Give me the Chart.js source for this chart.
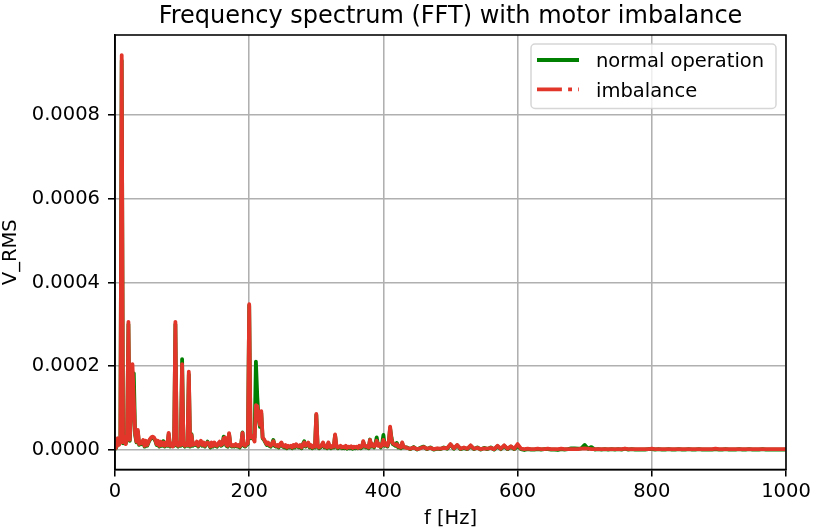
<!DOCTYPE html>
<html lang="en">
<head>
<meta charset="UTF-8">
<title>Frequency spectrum (FFT) with motor imbalance</title>
<script src="https://cdn.jsdelivr.net/npm/chart.js"></script>
<style>
    html, body { margin: 0; padding: 0; background: #fff; }
    #wrap { width: 815px; height: 532px; }
</style>
</head>
<body>
<div id="wrap"><canvas id="fftChart" width="815" height="532"></canvas></div>
<script>
// frequency bins [Hz]
const freqHz = [
    0, 2, 4, 6, 8, 10, 12, 14, 16, 18,
    20, 22, 24, 26, 28, 30, 32, 34, 36, 38,
    40, 42, 44, 46, 48, 50, 52, 54, 56, 58,
    60, 62, 64, 66, 68, 70, 72, 74, 76, 78,
    80, 82, 84, 86, 88, 90, 92, 94, 96, 98,
    100, 102, 104, 106, 108, 110, 112, 114, 116, 118,
    120, 122, 124, 126, 128, 130, 132, 134, 136, 138,
    140, 142, 144, 146, 148, 150, 152, 154, 156, 158,
    160, 162, 164, 166, 168, 170, 172, 174, 176, 178,
    180, 182, 184, 186, 188, 190, 192, 194, 196, 198,
    200, 202, 204, 206, 208, 210, 212, 214, 216, 218,
    220, 222, 224, 226, 228, 230, 232, 234, 236, 238,
    240, 242, 244, 246, 248, 250, 252, 254, 256, 258,
    260, 262, 264, 266, 268, 270, 272, 274, 276, 278,
    280, 282, 284, 286, 288, 290, 292, 294, 296, 298,
    300, 302, 304, 306, 308, 310, 312, 314, 316, 318,
    320, 322, 324, 326, 328, 330, 332, 334, 336, 338,
    340, 342, 344, 346, 348, 350, 352, 354, 356, 358,
    360, 362, 364, 366, 368, 370, 372, 374, 376, 378,
    380, 382, 384, 386, 388, 390, 392, 394, 396, 398,
    400, 402, 404, 406, 408, 410, 412, 414, 416, 418,
    420, 422, 424, 426, 428, 430,
    435, 440, 445, 450, 455, 460, 465, 470, 475, 480,
    485, 490, 495, 500, 505, 510, 515, 520, 525, 530,
    535, 540, 545, 550, 555, 560, 565, 570, 575, 580,
    585, 590, 595, 600, 605, 610, 615, 620, 625, 630,
    635, 640, 645, 650, 655, 660, 665, 670, 675, 680,
    685, 690, 695, 700, 705, 710, 715, 720, 725, 730,
    735, 740, 745, 750, 755, 760, 765, 770, 775, 780,
    785, 790, 795, 800, 805, 810, 815, 820, 825, 830,
    835, 840, 845, 850, 855, 860, 865, 870, 875, 880,
    885, 890, 895, 900, 905, 910, 915, 920, 925, 930,
    935, 940, 945, 950, 955, 960, 965, 970, 975, 980,
    985, 990, 995, 1000
];

// amplitudes in microvolts (x 1e-6 V)
const normalUV = [
    1, 6, 24, 14, 20, 930, 16, 28, 16, 32,
    300, 22, 80, 150, 183, 36, 18, 44, 12, 18,
    14, 22, 8, 20, 10, 18, 24, 28, 30, 28,
    22, 12, 20, 8, 18, 10, 21, 8, 16, 10,
    38, 8, 14, 10, 10, 300, 12, 8, 16, 10,
    217, 12, 8, 14, 10, 180, 8, 38, 10, 14,
    12, 18, 8, 16, 20, 10, 16, 8, 14, 20,
    12, 6, 16, 8, 16, 10, 8, 14, 18, 10,
    12, 32, 28, 10, 8, 38, 12, 8, 10, 8,
    12, 8, 10, 6, 12, 42, 10, 8, 12, 14,
    345, 28, 32, 26, 30, 211, 129, 75, 55, 88,
    28, 24, 18, 12, 16, 10, 8, 14, 24, 10,
    8, 10, 6, 12, 16, 8, 6, 10, 4, 8,
    6, 8, 4, 10, 6, 12, 8, 6, 10, 4,
    14, 21, 8, 12, 16, 6, 10, 4, 8, 6,
    84, 8, 4, 6, 10, 16, 6, 8, 4, 16,
    6, 4, 8, 6, 35, 8, 4, 6, 8, 4,
    6, 4, 8, 3, 6, 4, 7, 3, 6, 4,
    6, 4, 8, 4, 6, 19, 8, 6, 8, 4,
    25, 8, 12, 6, 14, 30, 12, 12, 6, 14,
    36, 10, 14, 8, 18, 52, 30, 14, 12, 10,
    17, 6, 8, 4, 16, 6,
    6, 2, 7, 1, 5, 8, 2, 6, 1, 3,
    2, 6, 3, 13, 3, 11, 2, 5, 2, 10,
    2, 6, 1, 5, 2, 6, 1, 9, 2, 10,
    2, 8, 2, 10, 2, 0, 2, 1, 1, 2,
    1, 2, 2, 1, 1, 0, 2, 1, 2, 4,
    4, 3, 4, 12, 3, 7, 1, 2, 1, 2,
    1, 2, 1, 2, 1, 3, 1, 2, 1, 1,
    1, 1, 2, 2, 1, 2, 1, 1, 2, 1,
    1, 2, 1, 1, 2, 1, 1, 2, 1, 1,
    1, 1, 2, 1, 1, 2, 1, 1, 1, 2,
    1, 1, 2, 1, 1, 1, 2, 1, 1, 1,
    1, 1, 1, 1
];

const imbalanceUV = [
    1, 8, 28, 12, 22, 943, 18, 32, 14, 36,
    306, 24, 90, 205, 120, 40, 20, 48, 14, 20,
    16, 24, 10, 22, 12, 20, 26, 30, 32, 30,
    24, 14, 22, 10, 20, 12, 18, 10, 18, 12,
    41, 10, 16, 8, 12, 306, 14, 10, 18, 12,
    205, 14, 10, 16, 12, 187, 10, 36, 12, 16,
    14, 20, 10, 18, 22, 12, 18, 10, 16, 18,
    14, 8, 18, 10, 18, 12, 10, 16, 20, 12,
    14, 28, 30, 12, 10, 40, 14, 10, 12, 10,
    14, 10, 12, 8, 14, 41, 12, 10, 14, 16,
    348, 30, 34, 28, 20, 107, 105, 80, 60, 93,
    30, 26, 20, 14, 18, 12, 10, 16, 21, 12,
    10, 12, 8, 14, 18, 10, 8, 12, 6, 10,
    8, 10, 6, 12, 8, 14, 10, 8, 12, 6,
    12, 18, 10, 14, 18, 8, 12, 6, 10, 8,
    86, 10, 6, 8, 12, 18, 8, 10, 6, 18,
    8, 6, 10, 8, 37, 10, 6, 8, 10, 6,
    8, 6, 10, 5, 8, 6, 9, 5, 8, 6,
    8, 5, 10, 6, 8, 21, 10, 8, 10, 6,
    24, 10, 14, 8, 12, 22, 10, 14, 8, 12,
    24, 12, 16, 10, 20, 56, 26, 16, 14, 12,
    14, 8, 10, 6, 18, 8,
    5, 3, 6, 2, 4, 7, 3, 5, 2, 4,
    3, 5, 4, 14, 4, 12, 3, 6, 3, 11,
    3, 5, 2, 4, 3, 5, 2, 10, 3, 11,
    3, 9, 3, 14, 3, 2, 3, 2, 2, 3,
    2, 2, 3, 2, 2, 2, 3, 2, 2, 2,
    2, 2, 3, 4, 3, 2, 2, 2, 2, 2,
    2, 2, 2, 2, 2, 3, 2, 2, 2, 2,
    2, 2, 2, 3, 2, 2, 2, 2, 2, 2,
    2, 2, 2, 2, 2, 2, 2, 2, 2, 2,
    2, 2, 3, 2, 2, 2, 2, 2, 2, 2,
    2, 2, 2, 2, 2, 2, 2, 2, 2, 2,
    2, 2, 2, 2
];

const seriesLabels = ['normal operation', 'imbalance'];
const xTicks = [0, 200, 400, 600, 800, 1000];
const yTicks = [0, 0.0002, 0.0004, 0.0006, 0.0008];

const GREEN = '#008000';
const RED = '#e2362a';
const LW = 3.8;
const THIN = 1.56;

Chart.defaults.font.family = "'DejaVu Sans', sans-serif";
Chart.defaults.color = '#000';

function toPoints(vals) {
    return freqHz.map((f, i) => ({ x: f, y: vals[i] * 1e-6 }));
}

// top/right spines drawn over the data, then a matplotlib style legend box
const frameAndLegend = {
    id: 'frameAndLegend',
    afterDatasetsDraw(chart) {
        const { ctx, chartArea: a } = chart;
        ctx.save();
        ctx.strokeStyle = '#000';
        ctx.lineWidth = THIN;
        ctx.strokeRect(a.left, a.top, a.right - a.left, a.bottom - a.top);
        ctx.restore();
    },
    afterDraw(chart) {
        const { ctx, chartArea: a } = chart;
        const ds = chart.data.datasets;
        const boxW = 245, boxH = 64.5;
        const bx = a.right - 10 - boxW, by = a.top + 9;
        ctx.save();
        ctx.beginPath();
        ctx.roundRect(bx, by, boxW, boxH, 4);
        ctx.fillStyle = 'rgba(255,255,255,0.8)';
        ctx.fill();
        ctx.strokeStyle = 'rgba(204,204,204,0.8)';
        ctx.lineWidth = 1.5;
        ctx.stroke();

        const dashes = [[], [24.9, 6.2, 3.9, 6.2]];
        ds.forEach((d, i) => {
            const cy = by + 16 + i * 29.3;
            ctx.beginPath();
            ctx.setLineDash(dashes[i]);
            ctx.strokeStyle = d.borderColor;
            ctx.lineWidth = LW;
            ctx.moveTo(bx + 6, cy);
            ctx.lineTo(bx + 48, cy);
            ctx.stroke();
            ctx.setLineDash([]);
            ctx.fillStyle = '#000';
            ctx.font = "19.5px 'DejaVu Sans'";
            ctx.textBaseline = 'alphabetic';
            ctx.fillText(d.label, bx + 65, cy + 7.3);
        });
        ctx.restore();
    }
};

const ctx = document.getElementById('fftChart').getContext('2d');
new Chart(ctx, {
    type: 'line',
    data: {
        datasets: [
            {
                label: seriesLabels[0],
                data: toPoints(normalUV),
                borderColor: GREEN,
                backgroundColor: GREEN,
                borderWidth: LW,
                pointRadius: 0,
                tension: 0,
                borderJoinStyle: 'round',
                order: 1
            },
            {
                label: seriesLabels[1],
                data: toPoints(imbalanceUV),
                borderColor: RED,
                backgroundColor: RED,
                borderWidth: LW,
                pointRadius: 0,
                tension: 0,
                borderJoinStyle: 'round',
                order: 0
            }
        ]
    },
    options: {
        responsive: false,
        animation: false,
        devicePixelRatio: 1,
        layout: { padding: { left: 0, right: 29, top: 0, bottom: 0 } },
        plugins: {
            legend: { display: false },
            tooltip: { enabled: false },
            title: {
                display: true,
                fullSize: false,
                text: 'Frequency spectrum (FFT) with motor imbalance',
                font: { size: 24, weight: 'normal' },
                color: '#000',
                padding: { top: 2, bottom: 4.2 }
            }
        },
        scales: {
            x: {
                type: 'linear',
                min: 0,
                max: 1000,
                bounds: 'data',
                afterBuildTicks: s => { s.ticks = xTicks.map(v => ({ value: v })); },
                afterFit: s => { s.height = 62.5; },
                ticks: {
                    font: { size: 19.5 },
                    color: '#000',
                    padding: 4,
                    maxRotation: 0,
                    callback: v => String(v)
                },
                grid: {
                    color: '#b0b0b0',
                    lineWidth: THIN,
                    tickColor: '#000',
                    tickLength: 7,
                    tickWidth: THIN
                },
                border: { color: '#000', width: THIN },
                title: {
                    display: true,
                    text: 'f [Hz]',
                    font: { size: 19.5 },
                    color: '#000',
                    padding: { top: 0, bottom: 1.3 }
                }
            },
            y: {
                type: 'linear',
                min: -0.0000466,
                max: 0.000991,
                bounds: 'data',
                afterBuildTicks: s => { s.ticks = yTicks.map(v => ({ value: v })); },
                afterFit: s => { s.width = 115; },
                ticks: {
                    font: { size: 19.5 },
                    color: '#000',
                    padding: 8,
                    callback: v => v.toFixed(4)
                },
                grid: {
                    color: '#b0b0b0',
                    lineWidth: THIN,
                    tickColor: '#000',
                    tickLength: 7,
                    tickWidth: THIN
                },
                border: { color: '#000', width: THIN },
                title: {
                    display: true,
                    text: 'V_RMS',
                    font: { size: 19.5 },
                    color: '#000',
                    padding: { top: -1, bottom: 0 }
                }
            }
        }
    },
    plugins: [frameAndLegend]
});
</script>
</body>
</html>
